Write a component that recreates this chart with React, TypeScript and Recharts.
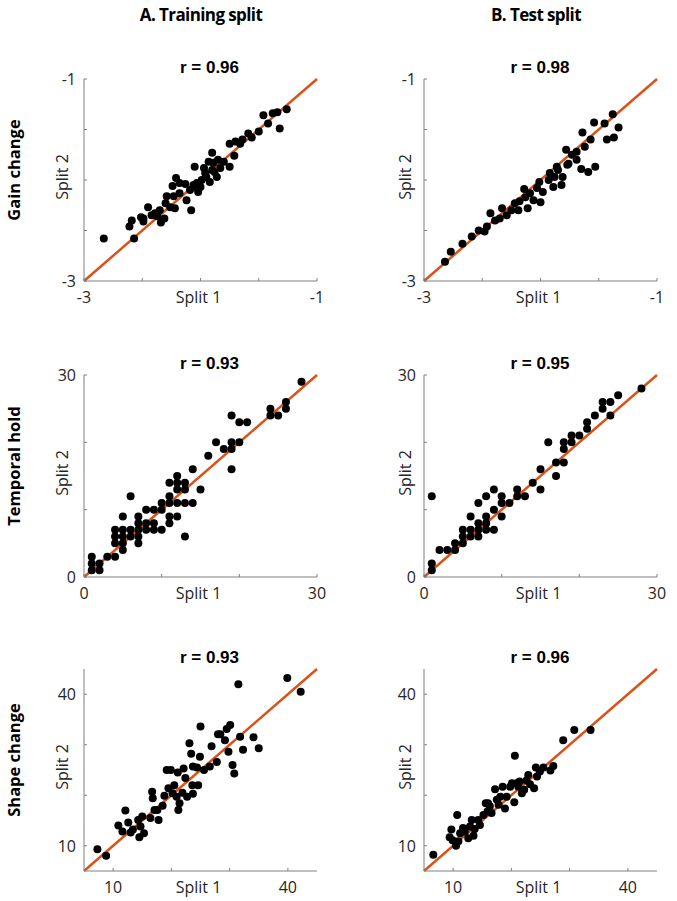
import { ScatterChart, Scatter, XAxis, YAxis, ReferenceLine } from "recharts"

// axis ticks and ranges
const gainTicks = [-3, -2.5, -2, -1.5, -1]
const gainDomain = [-3, -1]
const gainLabels = [-3, -1]
const holdTicks = [0, 10, 20, 30]
const holdDomain = [0, 30]
const holdLabels = [0, 30]
const shapeTicks = [10, 20, 30, 40]
const shapeDomain = [5, 45]
const shapeLabels = [10, 40]

const columnTitles = ["A. Training split", "B. Test split"]
const rowTitles = ["Gain change", "Temporal hold", "Shape change"]
const rValues = ["0.96", "0.98", "0.93", "0.95", "0.93", "0.96"]

// [split 1, split 2]
const gainTraining = [
  [-2.83, -2.58], [-2.57, -2.58], [-2.61, -2.46], [-2.59, -2.4], [-2.51, -2.37], [-2.49, -2.41],
  [-2.45, -2.27], [-2.42, -2.35], [-2.39, -2.33], [-2.34, -2.42], [-2.35, -2.3], [-2.31, -2.38],
  [-2.3, -2.23], [-2.29, -2.16], [-2.23, -2.16], [-2.22, -2.28], [-2.24, -2.06], [-2.21, -1.98],
  [-2.18, -2.03], [-2.13, -2.04], [-2.12, -2.2], [-2.08, -2.3], [-2.09, -2.1], [-2.06, -2.05],
  [-2.02, -2.12], [-2.03, -2.03], [-2.0, -2.07], [-2.05, -1.87], [-1.99, -2.0], [-1.97, -1.88],
  [-1.95, -1.97], [-1.9, -1.73], [-1.9, -1.9], [-1.89, -1.83], [-1.86, -1.97], [-1.85, -1.8],
  [-1.88, -1.92], [-1.83, -1.88], [-1.75, -1.87], [-1.75, -1.64], [-1.7, -1.62], [-1.71, -1.76],
  [-1.66, -1.64], [-1.64, -1.6], [-1.59, -1.54], [-1.56, -1.58], [-1.5, -1.52], [-1.46, -1.36],
  [-1.42, -1.44], [-1.38, -1.34], [-1.34, -1.33], [-1.32, -1.49], [-1.26, -1.3], [-2.18, -2.13],
  [-1.96, -1.93], [-1.92, -2.02], [-2.03, -2.08], [-1.8, -1.82], [-1.93, -1.82], [-2.26, -2.27],
  [-2.37, -2.36], [-2.49, -2.38],
]

const gainTest = [
  [-2.82, -2.81], [-2.77, -2.71], [-2.67, -2.63], [-2.59, -2.56], [-2.53, -2.5], [-2.48, -2.51],
  [-2.46, -2.46], [-2.43, -2.33], [-2.39, -2.4], [-2.35, -2.38], [-2.33, -2.28], [-2.29, -2.35],
  [-2.25, -2.3], [-2.22, -2.23], [-2.19, -2.3], [-2.18, -2.21], [-2.14, -2.09], [-2.13, -2.17],
  [-2.09, -2.13], [-2.06, -2.2], [-2.03, -2.08], [-2.0, -2.22], [-2.01, -2.02], [-1.98, -2.12],
  [-1.93, -2.0], [-1.92, -1.93], [-1.89, -2.07], [-1.88, -1.97], [-1.85, -1.9], [-1.81, -1.97],
  [-1.77, -1.85], [-1.78, -1.7], [-1.73, -1.75], [-1.69, -1.8], [-1.65, -1.89], [-1.64, -1.53],
  [-1.62, -1.67], [-1.59, -1.92], [-2.11, -2.28], [-1.82, -2.05], [-1.76, -1.84], [-1.69, -1.72],
  [-1.57, -1.6], [-1.53, -1.87], [-1.54, -1.43], [-1.45, -1.44], [-1.43, -1.6], [-1.38, -1.35],
  [-1.37, -1.58], [-1.33, -1.48], [-1.86, -1.87],
]

const holdTraining = [
  [1, 3], [1, 2], [2, 2], [1, 1], [2, 1], [3, 3], [4, 3], [4, 7], [4, 6], [4, 5], [5, 7], [5, 6],
  [5, 5], [5, 4], [5, 9], [6, 7], [6, 6], [6, 12], [7, 9], [7, 8], [7, 7], [7, 6], [7, 5], [8, 10],
  [8, 8], [8, 7], [9, 10], [9, 8], [9, 7], [10, 11], [10, 10], [10, 7], [11, 14], [11, 12], [11, 11],
  [11, 9], [11, 8], [12, 15], [12, 14], [12, 13], [12, 11], [12, 9], [13, 14], [13, 13], [13, 11],
  [13, 6], [14, 16], [14, 11], [15, 13], [16, 18], [17, 20], [18, 19], [19, 19], [19, 20], [19, 16],
  [19, 24], [20, 23], [20, 20], [21, 23], [24, 25], [24, 24], [25, 24], [26, 25], [26, 26], [28, 29],
]

const holdTest = [
  [1, 1], [1, 2], [1, 12], [2, 4], [3, 4], [4, 4], [4, 5], [5, 5], [5, 6], [5, 7], [6, 6], [6, 7],
  [6, 9], [7, 6], [7, 7], [7, 8], [7, 11], [8, 7], [8, 8], [8, 9], [8, 12], [9, 7], [9, 10], [9, 13],
  [10, 9], [10, 11], [10, 12], [11, 11], [12, 12], [12, 13], [13, 12], [14, 14], [15, 13], [15, 16],
  [16, 20], [17, 15], [17, 17], [18, 17], [18, 19], [18, 20], [19, 20], [19, 21], [20, 21], [21, 23],
  [21, 22], [22, 24], [23, 26], [23, 25], [24, 26], [24, 24], [25, 27], [28, 28],
]

const shapeTraining = [
  [7.3, 9.3], [8.8, 8.0], [10.9, 14.0], [11.6, 12.8], [12.1, 17.0], [12.6, 14.6], [13.0, 12.6],
  [13.4, 13.2], [14.3, 15.1], [14.5, 11.7], [14.7, 13.8], [15.3, 12.5], [15.0, 15.8], [16.4, 15.5],
  [16.7, 20.7], [16.8, 19.4], [17.1, 17.1], [17.8, 15.1], [17.6, 17.1], [18.5, 17.9], [18.8, 19.9],
  [19.2, 25.0], [19.9, 25.0], [19.5, 21.4], [20.2, 20.4], [20.5, 22.0], [20.9, 19.7], [21.2, 17.1],
  [21.1, 24.5], [21.4, 18.4], [21.9, 20.5], [22.1, 25.3], [22.4, 23.4], [22.7, 19.7], [23.1, 30.3],
  [23.4, 28.2], [23.6, 22.0], [23.7, 25.7], [23.7, 20.3], [24.4, 25.5], [24.6, 22.0], [24.9, 27.6],
  [25.0, 33.6], [25.6, 25.0], [26.6, 25.7], [26.9, 29.7], [27.8, 26.6], [28.0, 32.1], [28.4, 32.1],
  [29.2, 30.9], [29.5, 33.1], [29.8, 28.6], [30.1, 33.9], [30.5, 26.0], [30.8, 24.3], [31.5, 42.0],
  [31.8, 31.6], [32.3, 29.0], [34.1, 31.5], [35.0, 29.3], [39.9, 43.2], [42.2, 40.5],
]

const shapeTest = [
  [6.6, 8.2], [10.7, 16.1], [9.7, 13.2], [9.4, 11.7], [9.9, 11.1], [10.5, 10.0], [10.9, 10.9],
  [11.2, 12.5], [11.7, 13.5], [12.0, 12.8], [12.6, 11.5], [13.2, 15.1], [13.5, 12.0], [13.7, 13.3],
  [14.3, 15.1], [14.6, 14.1], [15.2, 16.1], [15.6, 18.4], [15.9, 16.8], [16.3, 17.8], [16.6, 16.5],
  [17.2, 21.2], [17.5, 19.1], [18.1, 19.7], [18.5, 21.7], [18.9, 17.4], [19.2, 19.7], [19.8, 21.7],
  [20.1, 22.4], [20.5, 18.6], [20.6, 27.8], [20.9, 22.4], [21.4, 22.7], [21.8, 20.4], [22.2, 21.1],
  [22.9, 24.0], [23.2, 22.2], [23.9, 21.4], [24.4, 23.7], [24.2, 25.5], [24.9, 24.7], [25.5, 25.5],
  [26.7, 24.9], [27.2, 25.8], [28.9, 30.9], [30.8, 32.9], [33.6, 32.9], [12.9, 13.8], [16.0, 18.4],
  [17.8, 18.1], [21.2, 21.7], [22.6, 22.9],
]

const AXIS = "#808080"
const TEXT = "#262626"
const ORANGE = "#D95319"
const SANS = "'Open Sans', sans-serif"

const PLOT_W = 233
const PLOT_H = 202
const ML = 60
const MT = 50
const MR = 20
const MB = 50

const colLeft = [84, 424]
const rowTop = [79, 375, 669]

const XTick = ({ x, y, payload, labels }: any) => (
  <g>
    <line x1={x} x2={x} y1={y} y2={y - 3} stroke={AXIS} />
    {labels.includes(payload.value) && (
      <text x={x} y={y + 22} textAnchor="middle" fontSize={16} fontFamily={SANS} fill={TEXT}>
        {payload.value}
      </text>
    )}
  </g>
)

const YTick = ({ x, y, payload, labels }: any) => (
  <g>
    <line x1={x} x2={x + 3} y1={y} y2={y} stroke={AXIS} />
    {labels.includes(payload.value) && (
      <text x={x - 8} y={y + 6} textAnchor="end" fontSize={16} fontFamily={SANS} fill={TEXT}>
        {payload.value}
      </text>
    )}
  </g>
)

const Dot = (props: any) => <circle cx={props.cx} cy={props.cy} r={4} fill="#000" />

function Panel({ left, top, domain, ticks, labels, points }: any) {
  const data = points.map(([x, y]: number[]) => ({ x, y }))
  return (
    <div style={{ position: "absolute", left: left - ML, top: top - MT }}>
      <ScatterChart
        width={ML + PLOT_W + MR}
        height={MT + PLOT_H + MB}
        margin={{ top: MT, right: MR, bottom: MB - 30, left: ML - 40 }}
      >
        <XAxis
          type="number"
          dataKey="x"
          domain={domain}
          ticks={ticks}
          interval={0}
          allowDataOverflow
          height={30}
          axisLine={{ stroke: AXIS }}
          tickLine={false}
          tickSize={0}
          tickMargin={0}
          tick={(p: any) => <XTick {...p} labels={labels} />}
        />
        <YAxis
          type="number"
          dataKey="y"
          domain={domain}
          ticks={ticks}
          interval={0}
          allowDataOverflow
          width={40}
          axisLine={{ stroke: AXIS }}
          tickLine={false}
          tickSize={0}
          tickMargin={0}
          tick={(p: any) => <YTick {...p} labels={labels} />}
        />
        <Scatter data={data} shape={Dot} isAnimationActive={false} />
        <ReferenceLine
          segment={[{ x: domain[0], y: domain[0] }, { x: domain[1], y: domain[1] }]}
          stroke={ORANGE}
          strokeWidth={2.5}
          ifOverflow="visible"
        />
      </ScatterChart>
    </div>
  )
}

const panels = [
  { domain: gainDomain, ticks: gainTicks, labels: gainLabels, points: [gainTraining, gainTest] },
  { domain: holdDomain, ticks: holdTicks, labels: holdLabels, points: [holdTraining, holdTest] },
  { domain: shapeDomain, ticks: shapeTicks, labels: shapeLabels, points: [shapeTraining, shapeTest] },
]

export default function App() {
  return (
    <div style={{ position: "absolute", left: 0, top: 0, width: 677, height: 901, background: "#fff" }}>
      {panels.map((row, ri) =>
        [0, 1].map(ci => (
          <Panel
            key={`${ri}-${ci}`}
            left={colLeft[ci]}
            top={rowTop[ri]}
            domain={row.domain}
            ticks={row.ticks}
            labels={row.labels}
            points={row.points[ci]}
          />
        ))
      )}
      <svg width={677} height={901} style={{ position: "absolute", left: 0, top: 0, pointerEvents: "none" }}>
        {columnTitles.map((t, ci) => (
          <text key={t} x={[201, 536][ci]} y={21} textAnchor="middle" fontSize={17} fontWeight={700}
            fontFamily={SANS} letterSpacing={-0.6} fill="#000">{t}</text>
        ))}
        {rowTitles.map((t, ri) => {
          const cy = rowTop[ri] + PLOT_H / 2 - 10
          return (
            <text key={t} x={20} y={cy} transform={`rotate(-90, 20, ${cy})`} textAnchor="middle"
              fontSize={16.5} fontWeight={700} fontFamily={SANS} fill="#000">{t}</text>
          )
        })}
        {rowTop.map((top, ri) =>
          [0, 1].map(ci => {
            const cx = colLeft[ci] + PLOT_W / 2
            const ly = top + PLOT_H / 2 - 3
            const lx = ci === 0 ? 68 : 411
            return (
              <g key={`${ri}-${ci}`}>
                <text x={[209.5, 540][ci]} y={top - 6} textAnchor="middle" fontSize={17} fontWeight={700}
                  fontFamily="'Liberation Sans', Arial, sans-serif" fill="#000">
                  {`r = ${rValues[ri * 2 + ci]}`}
                </text>
                <text x={cx - 2} y={top + PLOT_H + 22} textAnchor="middle" fontSize={16}
                  fontFamily={SANS} fill={TEXT}>Split 1</text>
                <text x={lx} y={ly} transform={`rotate(-90, ${lx}, ${ly})`} textAnchor="middle"
                  fontSize={16} fontFamily={SANS} fill={TEXT}>Split 2</text>
              </g>
            )
          })
        )}
      </svg>
    </div>
  )
}
